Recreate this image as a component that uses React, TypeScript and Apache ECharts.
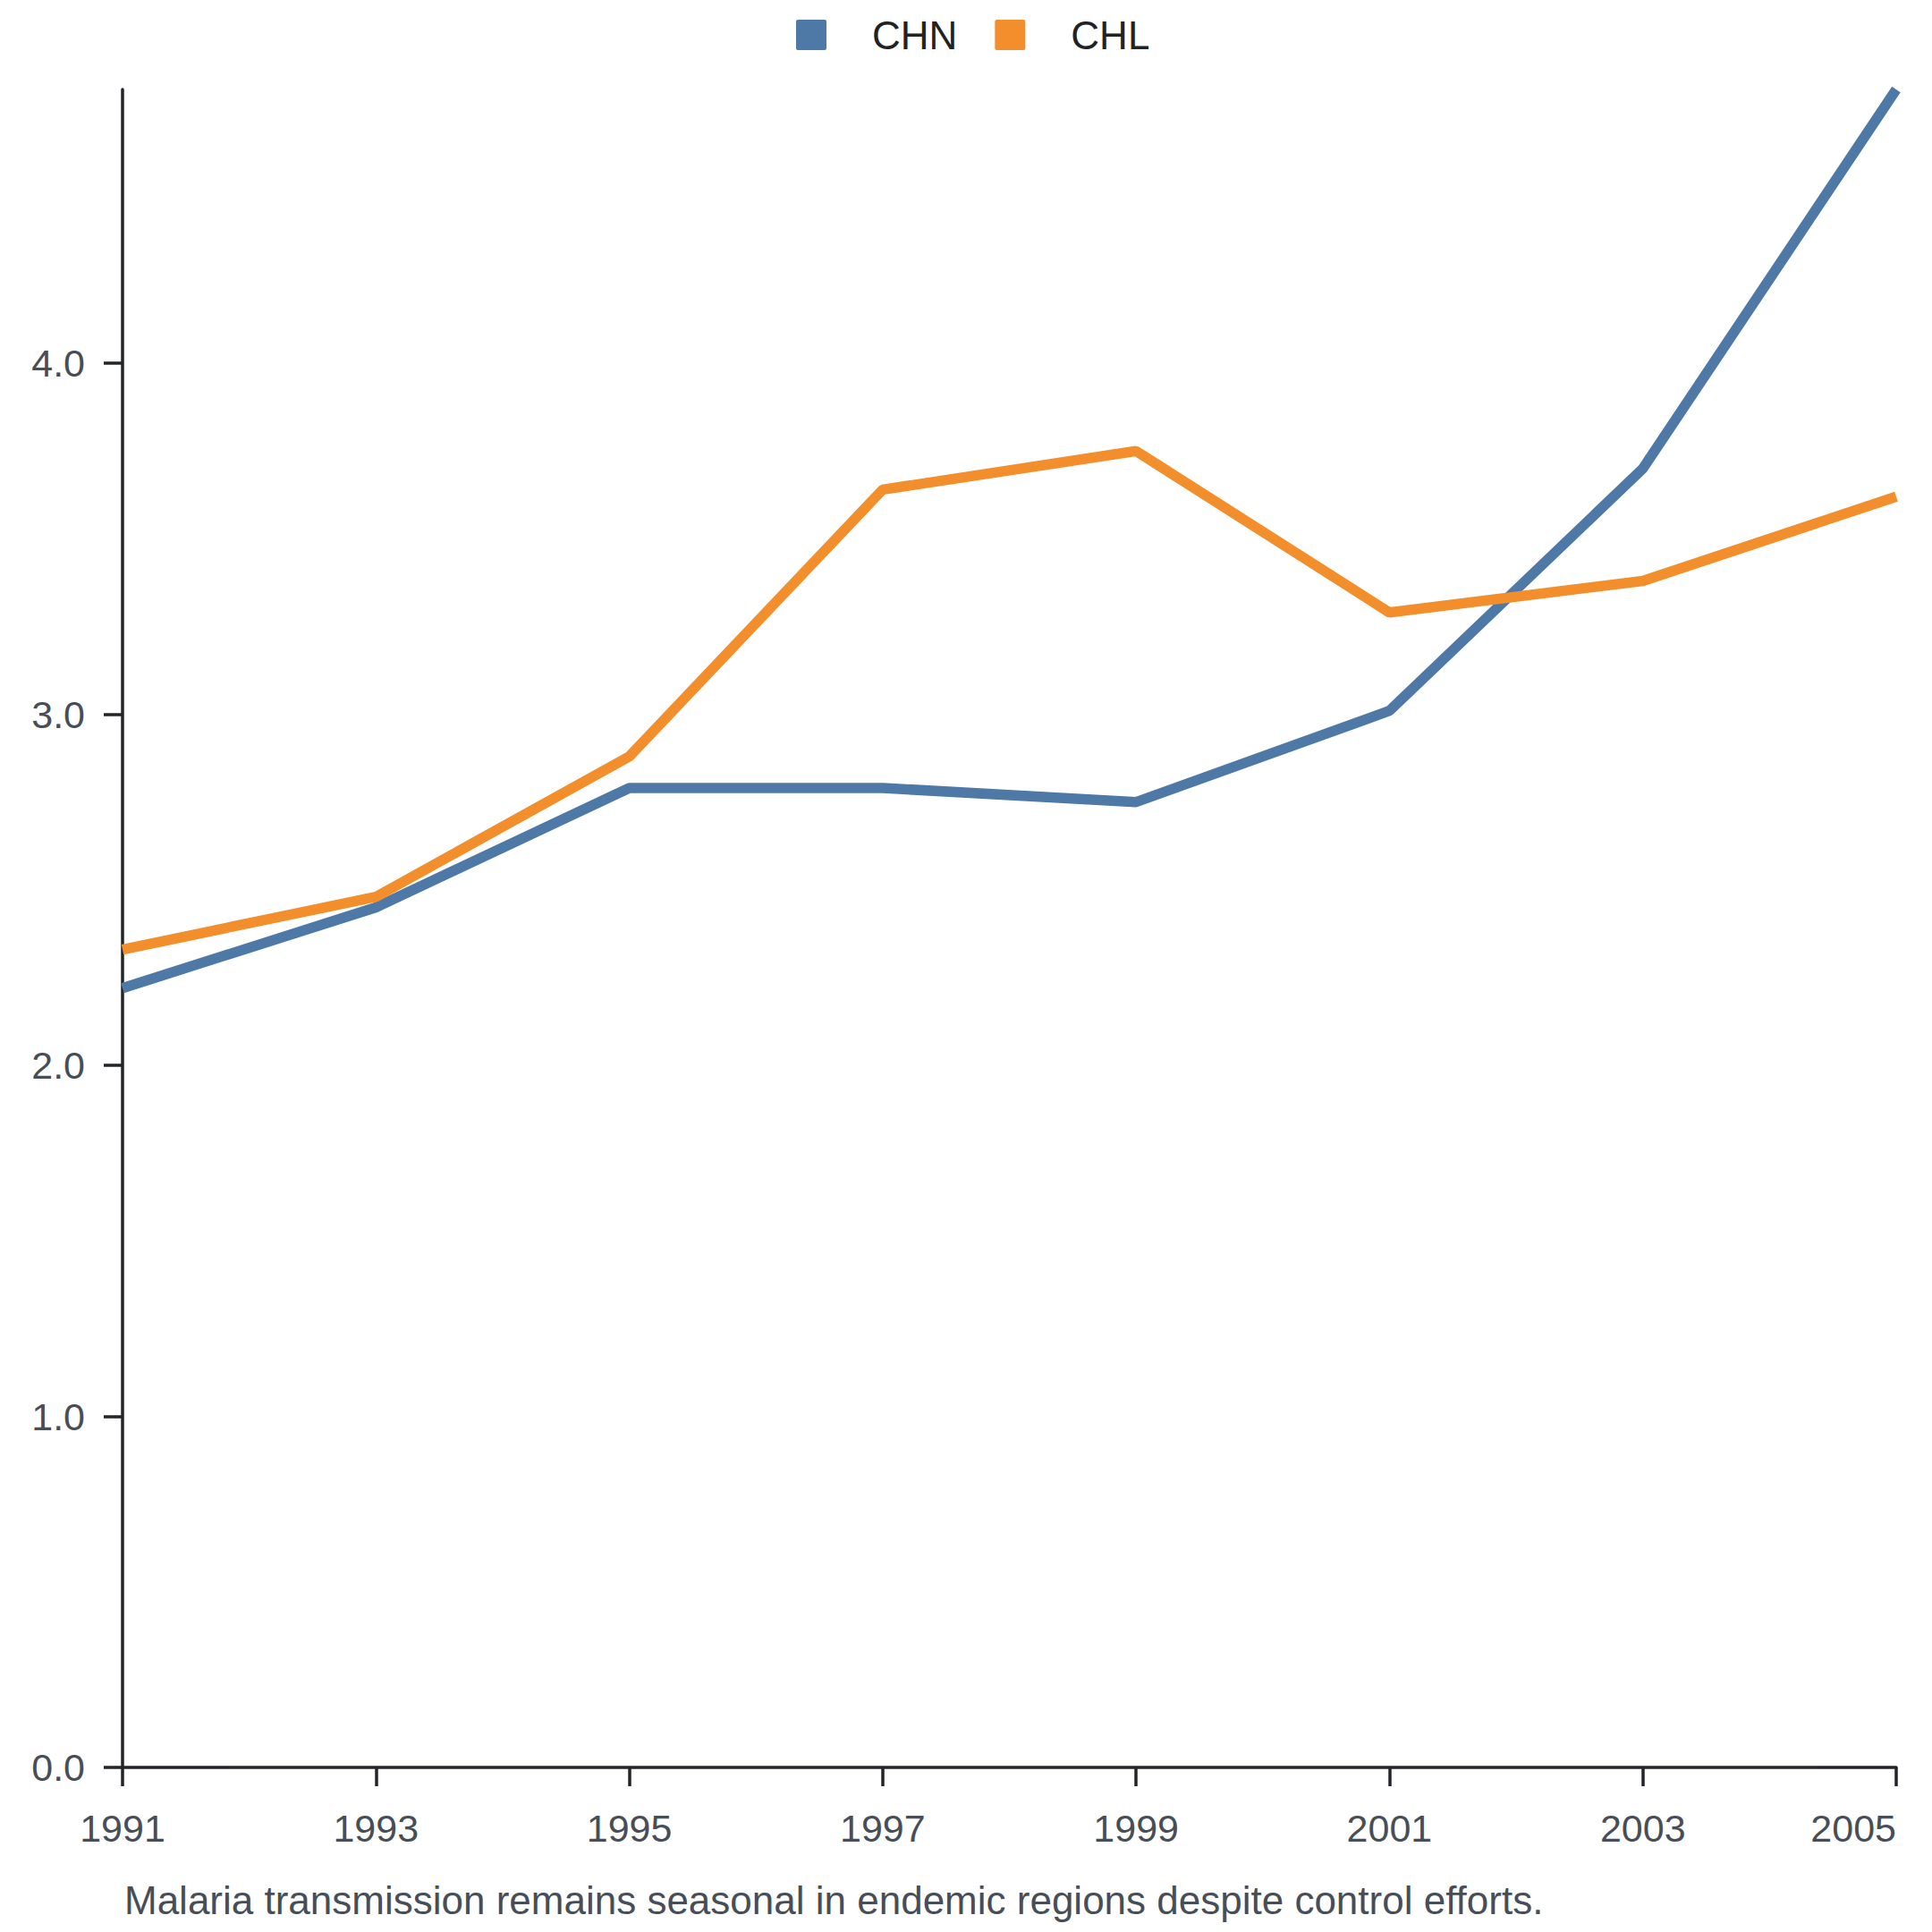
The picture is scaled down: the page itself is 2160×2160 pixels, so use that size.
import { useEffect, useRef } from "react";
import * as echarts from "echarts";

const years = ["1991", "1993", "1995", "1997", "1999", "2001", "2003", "2005"];
const chnValues = [2.22, 2.45, 2.79, 2.79, 2.75, 3.01, 3.7, 4.78];
const chlValues = [2.33, 2.48, 2.88, 3.64, 3.75, 3.29, 3.38, 3.62];
const yTicks = [0, 1, 2, 3, 4];
const caption = "Malaria transmission remains seasonal in endemic regions despite control efforts.";

const FONT = "'Liberation Sans', Arial, sans-serif";
const AXIS_COLOR = "#222428";
const LABEL_COLOR = "#474e57";

export default function App() {
    const chartRef = useRef<HTMLDivElement>(null);

    useEffect(() => {
        if (!chartRef.current) return;
        const chart = echarts.init(chartRef.current, null, { renderer: "svg" });

        chart.setOption({
            animation: false,
            textStyle: { fontFamily: FONT },
            legend: {
                top: 12,
                left: 885,
                icon: "path://M2,0 H32 Q34,0 34,2 V32 Q34,34 32,34 H2 Q0,34 0,32 V2 Q0,0 2,0 Z",
                itemWidth: 34,
                itemHeight: 34,
                itemGap: 42,
                textStyle: {
                    fontSize: 44,
                    color: "#222222",
                    fontFamily: FONT,
                    padding: [0, 0, 0, 46],
                },
                data: ["CHN", "CHL"],
            },
            grid: {
                left: 137,
                right: 40,
                top: 100,
                bottom: 184,
                containLabel: false,
            },
            xAxis: {
                type: "category",
                data: years,
                boundaryGap: false,
                axisLine: { lineStyle: { color: AXIS_COLOR, width: 3.5 } },
                axisTick: { length: 21, lineStyle: { color: AXIS_COLOR, width: 3.5 } },
                axisLabel: {
                    fontSize: 43,
                    color: LABEL_COLOR,
                    fontFamily: FONT,
                    margin: 46,
                    alignMaxLabel: "right",
                },
                splitLine: { show: false },
            },
            yAxis: {
                type: "value",
                min: 0,
                max: "dataMax",
                axisLine: { show: true, lineStyle: { color: AXIS_COLOR, width: 3.5 } },
                axisTick: {
                    show: true,
                    length: 21,
                    customValues: yTicks,
                    lineStyle: { color: AXIS_COLOR, width: 3.5 },
                },
                axisLabel: {
                    fontSize: 43,
                    color: LABEL_COLOR,
                    fontFamily: FONT,
                    margin: 42,
                    customValues: yTicks,
                    formatter: (v: number) => v.toFixed(1),
                },
                splitLine: { show: false },
            },
            series: [
                {
                    name: "CHN",
                    type: "line",
                    data: chnValues,
                    showSymbol: false,
                    color: "#4e79a7",
                    lineStyle: { width: 11.5, color: "#4e79a7" },
                },
                {
                    name: "CHL",
                    type: "line",
                    data: chlValues,
                    showSymbol: false,
                    color: "#f28e2b",
                    lineStyle: { width: 11.5, color: "#f28e2b" },
                },
            ],
            graphic: [
                {
                    type: "text",
                    left: 139,
                    top: 2102,
                    style: {
                        text: caption,
                        fontSize: 44,
                        fill: LABEL_COLOR,
                        fontFamily: FONT,
                    },
                },
            ],
        });

        return () => {
            chart.dispose();
        };
    }, []);

    return (
        <div
            ref={chartRef}
            style={{ position: "absolute", left: 0, top: 0, width: 2160, height: 2160, background: "#ffffff" }}
        />
    );
}
